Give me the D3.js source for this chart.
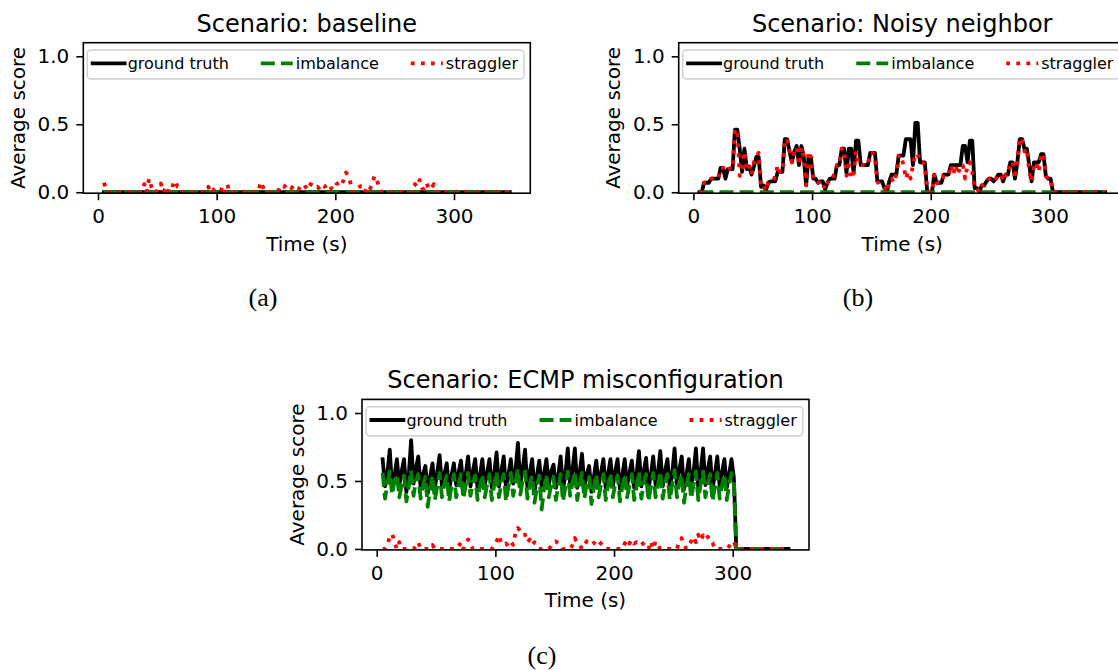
<!DOCTYPE html>
<html>
<head>
<meta charset="utf-8">
<script src="https://cdn.jsdelivr.net/npm/d3@7"></script>
<style>
  body { margin: 0; background: #ffffff; }
  svg { display: block; }
  text { font-family: "DejaVu Sans", sans-serif; fill: #000; }
</style>
</head>
<body>
<svg id="fig" width="1118" height="670"></svg>
<script>
// Sample times (s): one reading every 2 s
const times = [
  5,7,9,11,13,15,17,19,21,23,
  25,27,29,31,33,35,37,39,41,43,
  45,47,49,51,53,55,57,59,61,63,
  65,67,69,71,73,75,77,79,81,83,
  85,87,89,91,93,95,97,99,101,103,
  105,107,109,111,113,115,117,119,121,123,
  125,127,129,131,133,135,137,139,141,143,
  145,147,149,151,153,155,157,159,161,163,
  165,167,169,171,173,175,177,179,181,183,
  185,187,189,191,193,195,197,199,201,203,
  205,207,209,211,213,215,217,219,221,223,
  225,227,229,231,233,235,237,239,241,243,
  245,247,249,251,253,255,257,259,261,263,
  265,267,269,271,273,275,277,279,281,283,
  285,287,289,291,293,295,297,299,301,303,
  305,307,309,311,313,315,317,319,321,323,
  325,327,329,331,333,335,337,339,341,343,
  345,347
];

// A score that stays at zero for the whole run
const idle = [
  0,0,0,0,0,0,0,0,0,0, 0,0,0,0,0,0,0,0,0,0,
  0,0,0,0,0,0,0,0,0,0, 0,0,0,0,0,0,0,0,0,0,
  0,0,0,0,0,0,0,0,0,0, 0,0,0,0,0,0,0,0,0,0,
  0,0,0,0,0,0,0,0,0,0, 0,0,0,0,0,0,0,0,0,0,
  0,0,0,0,0,0,0,0,0,0, 0,0,0,0,0,0,0,0,0,0,
  0,0,0,0,0,0,0,0,0,0, 0,0,0,0,0,0,0,0,0,0,
  0,0,0,0,0,0,0,0,0,0, 0,0,0,0,0,0,0,0,0,0,
  0,0,0,0,0,0,0,0,0,0, 0,0,0,0,0,0,0,0,0,0,
  0,0,0,0,0,0,0,0,0,0,
  0,0
];

// Scenario: baseline — straggler score
const baselineStraggler = [
  0.07,0.02,0,0,0,0,0,0,0,0,
  0,0,0,0,0,0,0,0.06,0,0.1,
  0.04,0,0,0.03,0.065,0,0.035,0,0.06,0.05,
  0.085,0.04,0.04,0,0,0,0,0,0,0,
  0,0,0,0,0.04,0,0.02,0,0,0,
  0.045,0,0.055,0,0,0,0,0,0,0,
  0,0,0,0,0,0,0.075,0.04,0,0,
  0,0,0,0,0.03,0.055,0.04,0.06,0.05,0.03,
  0.05,0.04,0.02,0.05,0.03,0.04,0.02,0.06,0.05,0.03,
  0.04,0.02,0.05,0.04,0.055,0.02,0.03,0.02,0.06,0.07,
  0.05,0.09,0.145,0.12,0.06,0,0,0.03,0.045,0.04,
  0,0.04,0.02,0.06,0.12,0.09,0.03,0,0,0,
  0,0,0,0,0,0,0,0,0,0,
  0,0.06,0.04,0.09,0.03,0.02,0.065,0.02,0.03,0.06,
  0,0,0,0,0,0,0,0,0,0,
  0,0,0,0,0,0,0,0,0,0,
  0,0,0,0,0,0,0,0,0,0,
  0,0
];

// Scenario: Noisy neighbor
const noisyTruth = [
  0,0,0.07,0.07,0.07,0.1,0.1,0.1,0.1,0.18,
  0.18,0.1,0.17,0.17,0.17,0.46,0.46,0.32,0.15,0.32,
  0.17,0.19,0.13,0.19,0.26,0.26,0.04,0.05,0.01,0.07,
  0.08,0.08,0.08,0.15,0.15,0.15,0.39,0.39,0.3,0.22,
  0.3,0.34,0.2,0.34,0.26,0.05,0.26,0.26,0.1,0.1,
  0.07,0.08,0.08,0.02,0.07,0.1,0.1,0.1,0.2,0.2,
  0.32,0.32,0.14,0.32,0.32,0.14,0.38,0.38,0.2,0.2,
  0.2,0.2,0.29,0.29,0.29,0.08,0.08,0.08,0.03,0,
  0.08,0.13,0.13,0.13,0.27,0.27,0.27,0.39,0.39,0.39,
  0.2,0.51,0.51,0.22,0.22,0.22,0.01,0,0,0.13,
  0.07,0.07,0.07,0.13,0.13,0.13,0.2,0.2,0.2,0.2,
  0.2,0.34,0.34,0.22,0.38,0.38,0.03,0.03,0,0.05,
  0.05,0.08,0.1,0.1,0.08,0.1,0.13,0.13,0.08,0.13,
  0.13,0.22,0.22,0.1,0.22,0.39,0.39,0.32,0.32,0.2,
  0.08,0.22,0.22,0.22,0.28,0.28,0.12,0.1,0.1,0,
  0,0,0,0,0,0,0,0,0,0,
  0,0,0,0,0,0,0,0,0,0,
  0,0
];
const noisyStraggler = [
  0,0,0.07,0.07,0.07,0.1,0.1,0.1,0.1,0.18,
  0.18,0.2,0.2,0.17,0.17,0.46,0.46,0.12,0.15,0.3,
  0.17,0.2,0.13,0.22,0.26,0.29,0.04,0.05,0.01,0.07,
  0.08,0.08,0.12,0.2,0.15,0.15,0.39,0.39,0.3,0.22,
  0.3,0.33,0.2,0.33,0.26,0.05,0.3,0.26,0.1,0.1,
  0.07,0.08,0.08,0.02,0.07,0.1,0.1,0.14,0.2,0.2,
  0.32,0.32,0.12,0.2,0.1,0.14,0.3,0.2,0.2,0.2,
  0.2,0.2,0.29,0.29,0.25,0.08,0.05,0.05,0.03,0,
  0.07,0.1,0.07,0.13,0.27,0.27,0.2,0.1,0.15,0.1,
  0.2,0.28,0.28,0.22,0.22,0.2,0.01,0,0,0.13,
  0.07,0.07,0.07,0.13,0.13,0.13,0.2,0.13,0.2,0.13,
  0.2,0.2,0.1,0.2,0.22,0.15,0.03,0.03,0,0.05,
  0.05,0.08,0.1,0.1,0.08,0.1,0.13,0.13,0.08,0.13,
  0.13,0.22,0.22,0.1,0.22,0.4,0.39,0.3,0.32,0.15,
  0.08,0.2,0.22,0.15,0.28,0.28,0.12,0.1,0.1,0,
  0,0,0,0,0,0,0,0,0,0,
  0,0,0,0,0,0,0,0,0,0,
  0,0
];

// Scenario: ECMP misconfiguration
const ecmpTruth = [
  0.66,0.46,0.56, 0.73,0.44,0.54, 0.66,0.47,0.57, 0.66,0.42,0.54, 0.80,0.48,0.59,
  0.68,0.45,0.55, 0.61,0.41,0.53, 0.63,0.45,0.56, 0.69,0.46,0.55, 0.63,0.43,0.54,
  0.63,0.47,0.56, 0.65,0.45,0.55, 0.68,0.46,0.57, 0.66,0.44,0.54, 0.66,0.47,0.56,
  0.66,0.45,0.55, 0.71,0.46,0.57, 0.68,0.44,0.54, 0.66,0.48,0.58, 0.78,0.47,0.59,
  0.73,0.45,0.56, 0.66,0.42,0.54, 0.65,0.46,0.55, 0.66,0.47,0.57, 0.62,0.45,0.54,
  0.68,0.44,0.55, 0.74,0.47,0.58, 0.74,0.45,0.56, 0.70,0.46,0.55, 0.61,0.42,0.53,
  0.65,0.47,0.56, 0.66,0.45,0.55, 0.66,0.46,0.57, 0.66,0.44,0.54, 0.66,0.47,0.56,
  0.65,0.45,0.55, 0.72,0.46,0.57, 0.67,0.44,0.54, 0.68,0.47,0.56, 0.72,0.46,0.57,
  0.66,0.45,0.55, 0.74,0.47,0.58, 0.68,0.44,0.54, 0.66,0.46,0.56, 0.74,0.45,0.57,
  0.74,0.47,0.58, 0.68,0.44,0.55, 0.68,0.46,0.56, 0.66,0.45,0.55, 0.66,0.52,0,
  0,0,0,0,0,0,0,0,0,0,
  0,0,0,0,0,0,0,0,0,0,
  0,0
];
const ecmpImbalance = [
  0.56,0.37,0.48, 0.57,0.40,0.50, 0.55,0.38,0.47, 0.54,0.35,0.46, 0.58,0.39,0.50,
  0.55,0.37,0.47, 0.53,0.31,0.44, 0.54,0.36,0.46, 0.56,0.38,0.48, 0.54,0.35,0.46,
  0.55,0.38,0.47, 0.55,0.37,0.47, 0.56,0.39,0.48, 0.54,0.36,0.46, 0.55,0.38,0.47,
  0.55,0.36,0.47, 0.57,0.38,0.48, 0.55,0.35,0.46, 0.56,0.39,0.49, 0.59,0.40,0.50,
  0.57,0.37,0.48, 0.54,0.34,0.45, 0.54,0.29,0.44, 0.55,0.38,0.47, 0.53,0.36,0.46,
  0.55,0.35,0.46, 0.57,0.39,0.49, 0.57,0.36,0.47, 0.56,0.37,0.48, 0.53,0.33,0.45,
  0.55,0.38,0.47, 0.55,0.36,0.47, 0.56,0.38,0.48, 0.54,0.35,0.46, 0.55,0.38,0.47,
  0.55,0.36,0.46, 0.57,0.37,0.48, 0.55,0.35,0.46, 0.56,0.38,0.47, 0.57,0.37,0.48,
  0.55,0.36,0.47, 0.58,0.38,0.49, 0.55,0.34,0.46, 0.55,0.37,0.47, 0.57,0.36,0.48,
  0.57,0.38,0.48, 0.55,0.35,0.46, 0.56,0.37,0.47, 0.55,0.36,0.47, 0.56,0.50,0,
  0,0,0,0,0,0,0,0,0,0,
  0,0,0,0,0,0,0,0,0,0,
  0,0
];
const ecmpStraggler = [
  0,0,0.03,0.09,0.11,0.05,0,0.05,0,0,
  0,0,0,0,0.02,0.05,0,0,0,0,
  0,0.03,0,0,0,0,0,0,0,0,
  0,0,0.02,0.05,0,0.04,0.07,0.045,0,0,
  0,0,0,0,0,0,0,0.02,0.056,0.1,
  0.04,0.03,0.04,0.02,0.05,0.03,0.118,0.155,0.13,0.1,
  0.105,0.05,0.07,0.03,0.05,0.02,0,0,0,0,
  0,0.02,0.05,0.056,0.04,0.03,0,0,0,0,
  0.03,0.08,0.04,0.03,0,0.03,0.056,0.04,0.03,0.045,
  0.03,0.056,0.04,0.02,0,0,0,0,0,0,
  0,0,0.04,0.07,0.04,0.07,0.04,0.05,0.04,0.056,
  0.03,0,0,0.056,0,0.056,0.03,0,0,0,
  0,0,0,0,0,0.05,0.08,0.03,0,0.03,
  0.056,0.09,0.05,0.105,0.06,0.1,0.07,0.09,0.05,0.045,
  0,0,0,0,0,0,0.02,0.05,0.056,0,
  0,0,0,0,0,0,0,0,0,0,
  0,0,0,0,0,0,0,0,0,0,
  0,0
];

// Labels and ticks
const seriesNames = ["ground truth", "imbalance", "straggler"];
const panelTitles = ["Scenario: baseline", "Scenario: Noisy neighbor", "Scenario: ECMP misconfiguration"];
const panelTags = ["(a)", "(b)", "(c)"];
const xTicks = [0, 100, 200, 300];
const yTicks = [0, 0.5, 1.0];
const xLabel = "Time (s)";
const yLabel = "Average score";

// ---- drawing ----
const svg = d3.select("#fig");
const W = 447, H = 150.5;
const xDomain = [-12.4, 364.3];
const yDomain = [-0.007, 1.1];
const lw = 3.8;
const styles = [
  { color: "#000000", dash: null, cap: "square" },
  { color: "#008000", dash: [3.7 * lw, 1.6 * lw], cap: "butt" },
  { color: "#ff0000", dash: [1 * lw, 1.65 * lw], cap: "butt" }
];

const panels = [
  { title: panelTitles[0], tag: panelTags[0], series: [idle, idle, baselineStraggler],
    left: 83.3, top: 42.7, tagX: 263, tagY: 306 },
  { title: panelTitles[1], tag: panelTags[1], series: [noisyTruth, idle, noisyStraggler],
    left: 678.7, top: 42.7, tagX: 858, tagY: 306 },
  { title: panelTitles[2], tag: panelTags[2], series: [ecmpTruth, ecmpImbalance, ecmpStraggler],
    left: 362, top: 399.4, tagX: 542, tagY: 664 }
];

function styleLine(sel, st) {
  sel.attr("fill", "none")
    .attr("stroke", st.color)
    .attr("stroke-width", lw)
    .attr("stroke-linejoin", "round")
    .attr("stroke-linecap", st.cap)
    .attr("stroke-dasharray", st.dash ? st.dash.join(",") : null);
}

panels.forEach((p, pi) => {
  const g = svg.append("g").attr("transform", `translate(${p.left},${p.top})`);
  const x = d3.scaleLinear().domain(xDomain).range([0, W]);
  const y = d3.scaleLinear().domain(yDomain).range([H, 0]);

  const clipId = "plot-clip-" + pi;
  g.append("clipPath").attr("id", clipId)
    .append("rect").attr("width", W).attr("height", H);

  const line = d3.line().x((d, i) => x(times[i])).y(d => y(d));
  const plot = g.append("g").attr("clip-path", `url(#${clipId})`);
  p.series.forEach((vals, si) => {
    plot.append("path").attr("d", line(vals)).call(styleLine, styles[si]);
  });

  // axes
  const xa = g.append("g").attr("transform", `translate(0,${H})`)
    .call(d3.axisBottom(x).tickValues(xTicks).tickSize(7).tickPadding(7).tickFormat(d3.format("d")));
  xa.select(".domain").remove();
  xa.selectAll("text").attr("dy", "0.8em").style("font-size", "20px").style("font-family", "DejaVu Sans");
  xa.selectAll("line").attr("stroke-width", 1.6);

  const ya = g.append("g")
    .call(d3.axisLeft(y).tickValues(yTicks).tickSize(7).tickPadding(7).tickFormat(d3.format(".1f")));
  ya.select(".domain").remove();
  ya.selectAll("text").style("font-size", "20px").style("font-family", "DejaVu Sans");
  ya.selectAll("line").attr("stroke-width", 1.6);

  // frame
  g.append("rect").attr("width", W).attr("height", H)
    .attr("fill", "none").attr("stroke", "#000").attr("stroke-width", 1.6);

  // titles and labels
  g.append("text").attr("x", W / 2).attr("y", -11).attr("text-anchor", "middle")
    .style("font-size", "24px").text(p.title);
  g.append("text").attr("x", W / 2).attr("y", H + 57.5).attr("text-anchor", "middle")
    .style("font-size", "20px").text(xLabel);
  g.append("text").attr("transform", `translate(-58.3,${H / 2}) rotate(-90)`)
    .attr("text-anchor", "middle").style("font-size", "20px").text(yLabel);

  // legend
  const lg = g.append("g").attr("transform", "translate(4,7.3)");
  const frame = lg.append("rect");
  let cx = 5.4;
  const hy = 13.3;
  seriesNames.forEach((name, si) => {
    lg.append("line").attr("x1", cx).attr("x2", cx + 32).attr("y1", hy).attr("y2", hy)
      .call(styleLine, styles[si]);
    const t = lg.append("text").attr("x", cx + 35).attr("y", hy + 5.6)
      .style("font-size", "16px").text(name);
    cx += 35 + t.node().getComputedTextLength() + 32;
  });
  frame.attr("width", cx - 32 + 6).attr("height", 29).attr("rx", 3.5)
    .attr("fill", "#ffffff").attr("fill-opacity", 0.8)
    .attr("stroke", "#d0d0d0").attr("stroke-width", 1.4);
  frame.lower();

  // sub-figure tag
  svg.append("text").attr("x", p.tagX).attr("y", p.tagY).attr("text-anchor", "middle")
    .style("font-family", "'Liberation Serif', serif").style("font-size", "26px").text(p.tag);
});
</script>
</body>
</html>
